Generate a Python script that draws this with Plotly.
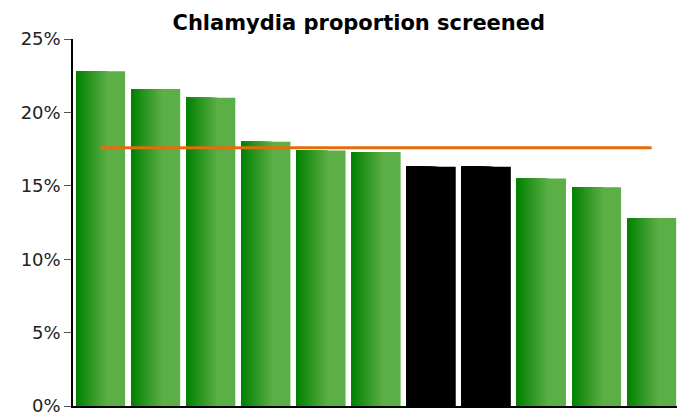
import plotly.graph_objects as go

# Data
areas = ['A', 'B', 'C', 'D', 'E', 'F', 'G', 'H', 'I', 'J', 'K']
screened = [22.8, 21.6, 21.0, 18.0, 17.4, 17.3, 16.3, 16.3, 15.5, 14.9, 12.8]
highlight = [False, False, False, False, False, False, True, True, False, False, False]
average = 17.6

dark = (0, 128, 0)
light = (91, 175, 70)


def mix(t):
    r, g, b = (round(dark[i] + (light[i] - dark[i]) * t) for i in range(3))
    return f'rgb({r},{g},{b})'


fig = go.Figure()

# gradient bars: stacked layers from full width (light) to narrow (dark)
bar_w = 0.89
n_layers = 24
grad_end = 0.65
for k in range(n_layers + 1):
    frac = 1.0 if k == 0 else grad_end * (1 - (k - 1) / n_layers)
    t = 1.0 if k == 0 else (1 - (k - 1) / n_layers)
    cols = ['black' if h else mix(t) for h in highlight]
    fig.add_trace(go.Bar(
        x=areas, y=screened,
        width=bar_w * frac,
        offset=-bar_w / 2,
        marker=dict(color=cols, line=dict(width=0)),
        hoverinfo='skip',
        showlegend=False,
    ))

fig.add_trace(go.Scatter(
    x=areas, y=[average] * len(areas),
    mode='lines',
    line=dict(color='#E46C0A', width=3),
    hoverinfo='skip',
    showlegend=False,
))

fig.update_layout(
    barmode='overlay',
    width=677, height=412,
    margin=dict(l=73, r=0, t=39, b=6, autoexpand=False),
    plot_bgcolor='white',
    paper_bgcolor='white',
    font=dict(family='DejaVu Sans', size=18, color='#222'),
    title=dict(
        text='<b>Chlamydia proportion screened</b>',
        font=dict(family='DejaVu Sans', size=21, color='black'),
        x=0.53, xanchor='center', y=1 - 15 / 412, yanchor='top',
        automargin=False,
    ),
    xaxis=dict(
        type='category',
        range=[-0.5, 10.46],
        showticklabels=False,
        ticks='',
        showgrid=False,
        showline=True, linecolor='black', linewidth=1.5,
        zeroline=False,
        automargin=False,
    ),
    yaxis=dict(
        range=[0, 25],
        dtick=5,
        ticksuffix='%',
        ticks='outside', ticklen=7, tickcolor='#555',
        ticklabeloverflow='allow',
        showgrid=False,
        showline=True, linecolor='black', linewidth=1.5,
        zeroline=False,
        tickfont=dict(size=18),
        automargin=False,
    ),
)

fig.write_html('out.html', config={'displayModeBar': False},
               post_script="document.body.style.margin='0';")
